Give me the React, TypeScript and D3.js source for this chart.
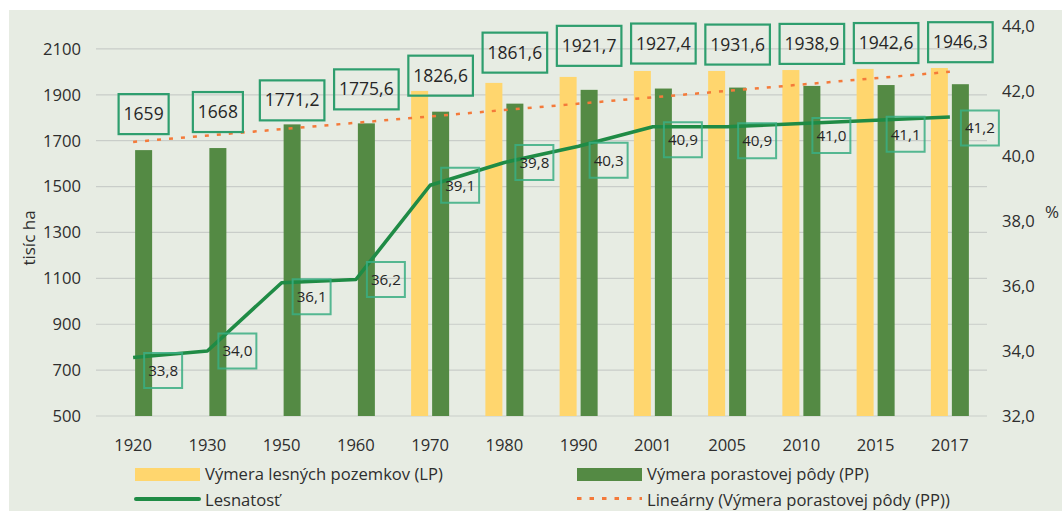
import React, { useEffect, useRef } from "react";
import * as d3 from "d3";

const years = ["1920", "1930", "1950", "1960", "1970", "1980", "1990", "2001", "2005", "2010", "2015", "2017"];
// Výmera lesných pozemkov (LP) - no labels in the source
const lp = [null, null, null, null, 1917, 1952, 1978, 2004, 2004, 2008, 2013, 2017];
// Výmera porastovej pôdy (PP)
const pp = [1659, 1668, 1771.2, 1775.6, 1826.6, 1861.6, 1921.7, 1927.4, 1931.6, 1938.9, 1942.6, 1946.3];
// Lesnatosť (%)
const lesnatost = [33.8, 34.0, 36.1, 36.2, 39.1, 39.8, 40.3, 40.9, 40.9, 41.0, 41.1, 41.2];
const leftTicks = [500, 700, 900, 1100, 1300, 1500, 1700, 1900, 2100];
const rightTicks = [32, 34, 36, 38, 40, 42, 44];
// manual nudges of data labels as in the original chart
const ppLabelLift = [36, 36, 24, 34, 36, 51, 44, 45, 43, 42, 42, 42];
const lesLabelDrop = [13, 0, 14, 0, 0, 0, 14, 13, 14, 12, 14, 11];

const FONT = "'Open Sans', 'Noto Sans', sans-serif";
const TXT = "#2e2e2e";

const fmt = (v: number) => String(v).replace(".", ",");
const fmt1 = (v: number) => v.toFixed(1).replace(".", ",");

export default function App() {
  const ref = useRef<SVGSVGElement>(null);

  useEffect(() => {
    const svg = d3.select(ref.current);
    svg.selectAll("*").remove();

    const x = d3.scaleBand().domain(years).range([96, 987]);
    const yL = d3.scaleLinear().domain([500, 2200]).range([416, 26]);
    const yR = d3.scaleLinear().domain([32, 44]).range([416, 26]);
    const cx = (d: string) => (x(d) as number) + x.bandwidth() / 2;

    svg.append("rect").attr("x", 9).attr("y", 10).attr("width", 1053).attr("height", 501).attr("fill", "#e7ece3");

    // gridlines
    svg.append("g").selectAll("line").data(leftTicks).join("line")
      .attr("x1", 96).attr("x2", 987)
      .attr("y1", (d) => yL(d)).attr("y2", (d) => yL(d))
      .attr("stroke", "#c9cdc9").attr("stroke-width", 1.2);

    // left axis labels
    svg.append("g").selectAll("text").data(leftTicks).join("text")
      .attr("x", 81).attr("y", (d) => yL(d)).attr("dy", "0.35em")
      .attr("text-anchor", "end").attr("font-family", FONT).attr("font-size", 16.6).attr("fill", TXT)
      .text((d) => d);

    // right axis labels
    svg.append("g").selectAll("text").data(rightTicks).join("text")
      .attr("x", 1002).attr("y", (d) => yR(d)).attr("dy", "0.35em")
      .attr("font-family", FONT).attr("font-size", 16.6).attr("fill", TXT)
      .text((d) => fmt1(d));

    // x labels
    svg.append("g").selectAll("text").data(years).join("text")
      .attr("x", (d) => cx(d)).attr("y", 445).attr("dy", "0.35em")
      .attr("text-anchor", "middle").attr("font-family", FONT).attr("font-size", 16.6).attr("fill", TXT)
      .text((d) => d);

    svg.append("text").attr("transform", "translate(29,238) rotate(-90)").attr("dy", "0.35em")
      .attr("text-anchor", "middle").attr("font-family", FONT).attr("font-size", 17).attr("fill", TXT)
      .text("tisíc ha");
    svg.append("text").attr("x", 1052).attr("y", 212).attr("dy", "0.35em")
      .attr("text-anchor", "middle").attr("font-family", FONT).attr("font-size", 17).attr("fill", TXT)
      .text("%");

    // bars
    const lpData = years.map((y, i) => ({ y, v: lp[i] })).filter((d) => d.v != null) as { y: string; v: number }[];
    svg.append("g").selectAll("rect").data(lpData).join("rect")
      .attr("x", (d) => cx(d.y) - 19).attr("width", 17)
      .attr("y", (d) => yL(d.v)).attr("height", (d) => yL(500) - yL(d.v))
      .attr("fill", "#ffd66e");
    svg.append("g").selectAll("rect").data(pp).join("rect")
      .attr("x", (_, i) => cx(years[i]) + 2).attr("width", 17)
      .attr("y", (d) => yL(d)).attr("height", (d) => yL(500) - yL(d))
      .attr("fill", "#548a44");

    // linear trend of PP
    const idx = pp.map((_, i) => i + 1);
    const mi = d3.mean(idx) as number;
    const mv = d3.mean(pp) as number;
    const slope = d3.sum(idx, (t, i) => (t - mi) * (pp[i] - mv)) / d3.sum(idx, (t) => (t - mi) ** 2);
    const trend = (t: number) => mv + slope * (t - mi);
    svg.append("line")
      .attr("x1", cx(years[0])).attr("y1", yL(trend(1)))
      .attr("x2", cx(years[11])).attr("y2", yL(trend(12)))
      .attr("stroke", "#f47a3a").attr("stroke-width", 2.5).attr("stroke-dasharray", "4,8");

    // Lesnatosť line
    const line = d3.line<number>().x((_, i) => cx(years[i])).y((d) => yR(d));
    svg.append("path").attr("d", line(lesnatost)).attr("fill", "none")
      .attr("stroke", "#1f8b45").attr("stroke-width", 3.6).attr("stroke-linejoin", "round");

    // PP labels
    const gp = svg.append("g");
    pp.forEach((v, i) => {
      const px = cx(years[i]) + 10.5;
      const py = yL(v) - ppLabelLift[i];
      const t = gp.append("text").attr("x", px).attr("y", py).attr("dy", "0.35em")
        .attr("text-anchor", "middle").attr("font-family", FONT).attr("font-size", 17.5).attr("fill", "#262626")
        .text(fmt(v));
      const w = (t.node() as SVGTextElement).getComputedTextLength() + 10;
      gp.insert("rect", "text").attr("x", px - w / 2).attr("y", py - 20).attr("width", w).attr("height", 40)
        .attr("fill", "none").attr("stroke", "#2e9e6e").attr("stroke-width", 2.2);
    });

    // Lesnatosť labels
    const gl = svg.append("g");
    lesnatost.forEach((v, i) => {
      const px = cx(years[i]) + 30;
      const py = yR(v) + lesLabelDrop[i];
      const t = gl.append("text").attr("x", px).attr("y", py).attr("dy", "0.35em")
        .attr("text-anchor", "middle").attr("font-family", FONT).attr("font-size", 15.2).attr("fill", "#262626")
        .text(fmt1(v));
      const w = (t.node() as SVGTextElement).getComputedTextLength() + 8;
      gl.insert("rect", "text").attr("x", px - w / 2).attr("y", py - 17.5).attr("width", w).attr("height", 35)
        .attr("fill", "none").attr("stroke", "#3aae82").attr("stroke-width", 2).attr("stroke-opacity", 0.85);
    });

    // legend
    const lg = svg.append("g").attr("font-family", FONT).attr("font-size", 16.6).attr("fill", TXT);
    lg.append("rect").attr("x", 135).attr("y", 468).attr("width", 65).attr("height", 13).attr("fill", "#ffd66e");
    lg.append("text").attr("x", 205).attr("y", 474.5).attr("dy", "0.35em").text("Výmera lesných pozemkov (LP)");
    lg.append("rect").attr("x", 577).attr("y", 468).attr("width", 65).attr("height", 13).attr("fill", "#548a44");
    lg.append("text").attr("x", 647).attr("y", 474.5).attr("dy", "0.35em").text("Výmera porastovej pôdy (PP)");
    lg.append("line").attr("x1", 136).attr("x2", 199).attr("y1", 499).attr("y2", 499)
      .attr("stroke", "#1f8b45").attr("stroke-width", 4).attr("stroke-linecap", "round");
    lg.append("text").attr("x", 205).attr("y", 500).attr("dy", "0.35em").text("Lesnatosť");
    lg.append("line").attr("x1", 577).attr("x2", 642).attr("y1", 498.5).attr("y2", 498.5)
      .attr("stroke", "#f47a3a").attr("stroke-width", 3).attr("stroke-dasharray", "4.5,8");
    lg.append("text").attr("x", 647).attr("y", 500).attr("dy", "0.35em").text("Lineárny (Výmera porastovej pôdy (PP))");
  }, []);

  return (
    <svg ref={ref} width={1062} height={513} style={{ position: "absolute", left: 0, top: 0, background: "#fff" }} />
  );
}
